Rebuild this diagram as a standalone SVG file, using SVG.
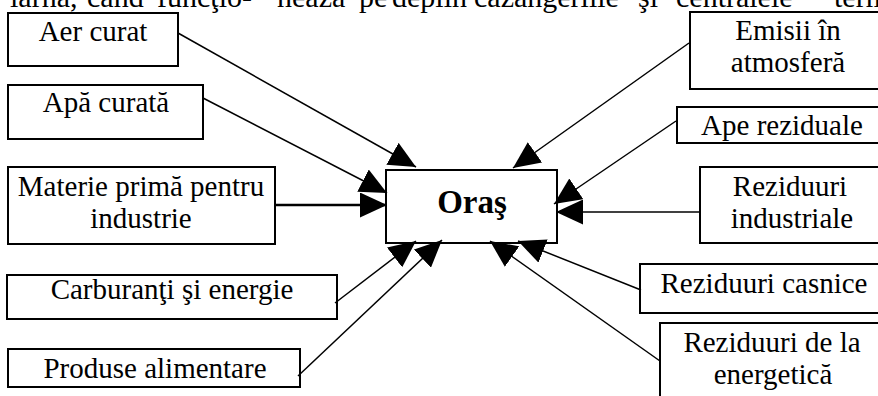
<svg xmlns="http://www.w3.org/2000/svg" width="878" height="396" viewBox="0 0 878 396">
<style>
  .box { fill: #fff; stroke: #000; stroke-width: 2; }
  .t { font-family: "Liberation Serif", "Times New Roman", serif; font-size: 29px; fill: #000; text-anchor: middle; }
  .top { font-family: "Liberation Serif", "Times New Roman", serif; font-size: 30px; fill: #000; }
  .title { font-family: "Liberation Serif", "Times New Roman", serif; font-size: 33px; font-weight: bold; fill: #000; text-anchor: middle; }
  .c { stroke: #000; stroke-width: 1.5; fill: none; marker-end: url(#ah); }
</style>
<defs>
  <marker id="ah" markerUnits="userSpaceOnUse" viewBox="0 0 27 25" markerWidth="27" markerHeight="25" refX="27" refY="12.5" orient="auto">
    <path d="M0,0 L27,12.5 L0,25 Z" fill="#000"/>
  </marker>
</defs>
<rect width="878" height="396" fill="#fff"/>

<text class="top" y="7"><tspan x="10">iarna,</tspan><tspan x="87">când</tspan><tspan x="157">funcţio-</tspan><tspan x="277">nează</tspan><tspan x="359">pe</tspan><tspan x="392">deplin</tspan><tspan x="474">cazangeriile</tspan><tspan x="638">şi</tspan><tspan x="676">centralele</tspan><tspan x="834">termoe</tspan></text>

<g id="n-aer"><rect class="box" x="8" y="13" width="170" height="53"/><text class="t" x="93" y="41">Aer curat</text></g>
<g id="n-apa"><rect class="box" x="8" y="85" width="195" height="54"/><text class="t" x="106" y="112">Apă curată</text></g>
<g id="n-materie"><rect class="box" x="8" y="167" width="267" height="77"/><text class="t" x="141" y="196">Materie primă pentru</text><text class="t" x="141" y="228">industrie</text></g>
<g id="n-carb"><rect class="box" x="7" y="275" width="330" height="44"/><text class="t" x="172" y="299">Carburanţi şi energie</text></g>
<g id="n-prod"><rect class="box" x="8" y="349" width="292" height="38"/><text class="t" x="155" y="378">Produse alimentare</text></g>

<g id="n-oras"><rect class="box" x="386" y="170" width="171" height="73"/><text class="title" x="472" y="213">Oraş</text></g>

<g id="n-emisii"><rect class="box" x="690" y="12" width="200" height="77"/><text class="t" x="788" y="40">Emisii în</text><text class="t" x="788" y="72">atmosferă</text></g>
<g id="n-ape"><rect class="box" x="677" y="107" width="215" height="36"/><text class="t" x="782" y="135">Ape reziduale</text></g>
<g id="n-rind"><rect class="box" x="700" y="167" width="190" height="76"/><text class="t" x="790" y="196">Reziduuri</text><text class="t" x="792" y="228">industriale</text></g>
<g id="n-rcas"><rect class="box" x="640" y="264" width="250" height="49"/><text class="t" x="764" y="293">Reziduuri casnice</text></g>
<g id="n-rene"><rect class="box" x="660" y="323" width="230" height="90"/><text class="t" x="772" y="352">Reziduuri de la</text><text class="t" x="773" y="384">energetică</text></g>

<g id="connectors">
  <line class="c" x1="178" y1="33" x2="416" y2="167"/>
  <line class="c" x1="203" y1="98" x2="387" y2="193"/>
  <line class="c" x1="275" y1="205" x2="387" y2="205" style="stroke-width:2.5"/>
  <line class="c" x1="335" y1="303" x2="416" y2="241"/>
  <line class="c" x1="298" y1="376" x2="442" y2="240"/>
  <line class="c" x1="689" y1="43" x2="513" y2="168"/>
  <line class="c" x1="676" y1="121" x2="554" y2="204"/>
  <line class="c" x1="700" y1="212" x2="556" y2="212"/>
  <line class="c" x1="641" y1="290" x2="518" y2="241"/>
  <line class="c" x1="660" y1="361" x2="490" y2="241"/>
</g>
</svg>
